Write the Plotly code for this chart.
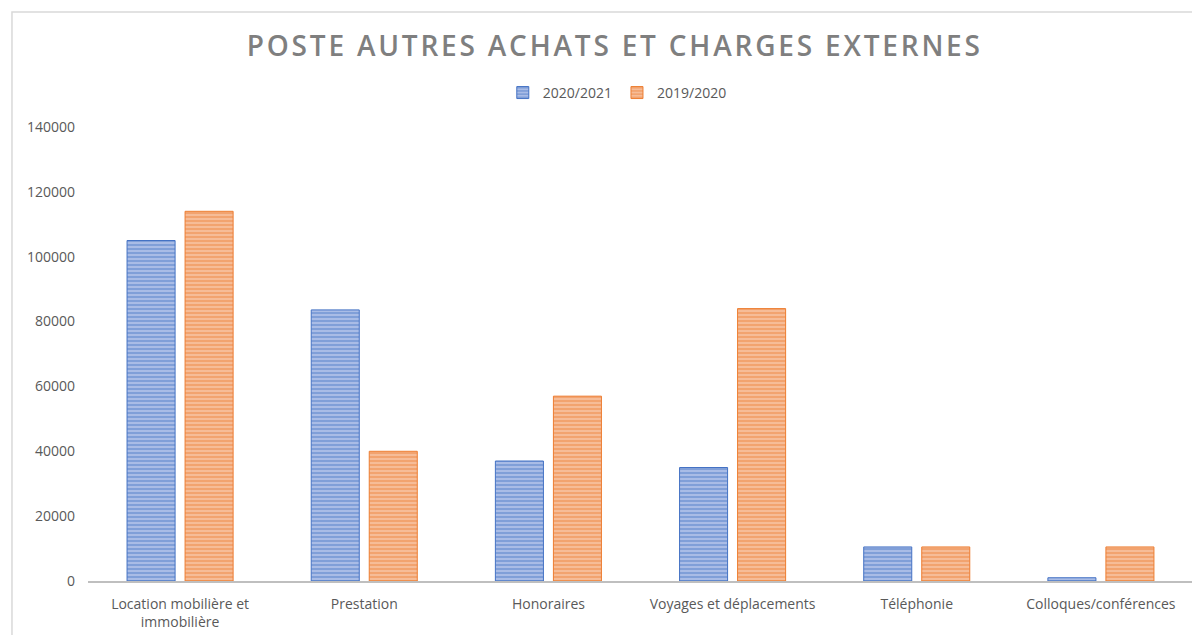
import plotly.graph_objects as go

categories = ["Location mobilière et<br>immobilière", "Prestation", "Honoraires",
              "Voyages et déplacements", "Téléphonie", "Colloques/conférences"]
series_names = ["2020/2021", "2019/2020"]
values_2021 = [105000, 83600, 37000, 35000, 10500, 1000]
values_2020 = [114000, 40000, 57000, 84000, 10500, 10500]
y_ticks = [0, 20000, 40000, 60000, 80000, 100000, 120000, 140000]

main_colors = ["#4472C4", "#ED7D31"]
light_colors = ["#A9BCE6", "#F6BC97"]

fig = go.Figure()
for name, vals, mc, lc in zip(series_names, [values_2021, values_2020], main_colors, light_colors):
    fig.add_trace(go.Bar(
        x=categories, y=vals, name=name,
        marker=dict(
            color=lc,
            line=dict(color=mc, width=1),
            pattern=dict(shape="-", fgcolor=mc, bgcolor=lc, size=4, solidity=0.4),
        ),
    ))

gray = "#595959"
fig.update_layout(
    width=1192, height=627,
    paper_bgcolor="white", plot_bgcolor="white",
    margin=dict(l=80, r=7, t=119, b=54),
    barmode="group", bargap=0.37, bargroupgap=0.172,
    title=dict(text='<span style="letter-spacing:2.8px">POSTE AUTRES ACHATS ET CHARGES EXTERNES</span>',
               x=0.509, xanchor="center", y=0.9397, yanchor="middle",
               font=dict(family="Open Sans", size=28, color="#7F7F7F", weight=600)),
    legend=dict(orientation="h", x=0.479, xanchor="center", y=1.075, yanchor="middle",
                font=dict(family="Open Sans", size=14, color=gray),
                itemwidth=30, traceorder="normal"),
    font=dict(family="Open Sans", size=14, color=gray),
    shapes=[dict(type="rect", xref="paper", yref="paper",
                 x0=-0.0688, x1=1.02, y0=-0.2, y1=1.2533,
                 line=dict(color="#D9D9D9", width=1.5), fillcolor="rgba(0,0,0,0)", layer="below")],
)
fig.update_xaxes(showline=True, linecolor="#BFBFBF", linewidth=1.5, showgrid=False,
                 ticks="", ticklabelstandoff=9, automargin=False,
                 tickfont=dict(family="Open Sans", size=14, color=gray))
fig.update_yaxes(range=[0, 140000], tickvals=y_ticks, ticktext=[str(v) for v in y_ticks],
                 showgrid=False, zeroline=False, showline=False, ticks="", automargin=False,
                 ticklabelstandoff=12, tickfont=dict(family="Open Sans", size=14, color=gray))

fig.write_html("out.html")
